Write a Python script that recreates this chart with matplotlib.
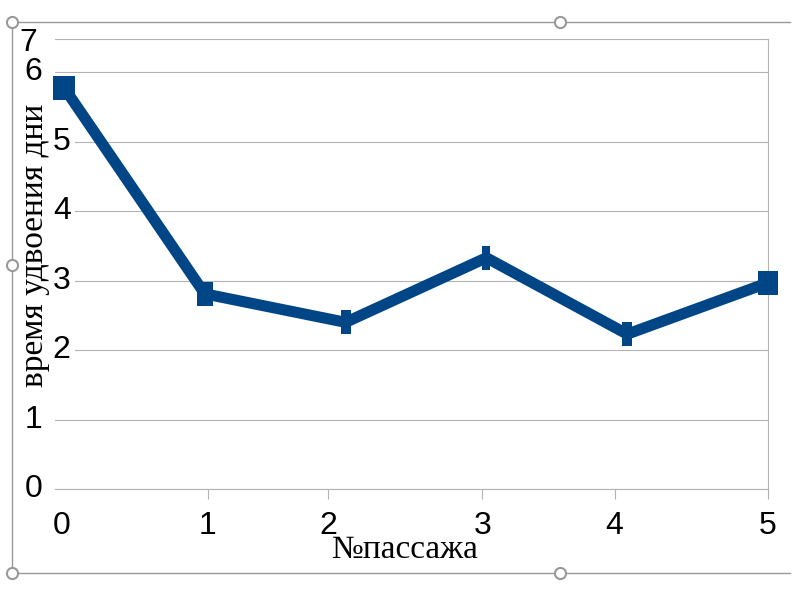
import matplotlib.pyplot as plt
from matplotlib.lines import Line2D
from matplotlib.transforms import offset_copy

# данные: время удвоения по пассажам
passage = [0, 1, 2, 3, 4, 5]
doubling_days = [5.78, 2.81, 2.40, 3.33, 2.23, 2.97]

x_tick_pos = [-0.02, 1.02, 1.875, 2.97, 3.91, 5.0]
x_tick_labels = ['0', '1', '2', '3', '4', '5']
y_tick_pos = [0, 1, 2, 3, 4, 5, 6, 6.48]
y_tick_labels = ['0', '1', '2', '3', '4', '5', '6', '7']

blue = '#004586'
grid_c = '#b3b3b3'
frame_c = '#999999'
marker_w = [21, 16, 9, 8, 9, 19]  # ширина маркеров, px (высота 24)

plt.rcParams['font.family'] = ['Liberation Sans', 'DejaVu Sans']

fig = plt.figure(figsize=(8, 6), dpi=100)
ax = fig.add_axes([55 / 800, 1 - 489 / 600, 713 / 800, 450 / 600])

ax.set_xlim(-0.064, 5.0)
ax.set_ylim(0, 6.48)

# сетка по y
ax.set_yticks(y_tick_pos[:-1])
ax.yaxis.grid(True, color=grid_c, linewidth=0.8)
ax.set_axisbelow(True)
ax.tick_params(axis='y', length=0, labelleft=False)

for sp in ['top', 'right', 'bottom']:
    ax.spines[sp].set_color(grid_c)
    ax.spines[sp].set_linewidth(0.8)
ax.spines['left'].set_visible(False)

ax.set_xticks(x_tick_pos)
ax.set_xticklabels(x_tick_labels, fontsize=23)
ax.tick_params(axis='x', length=7.2, width=0.8, color=grid_c, pad=9)
ax.xaxis.get_major_ticks()[0].tick1line.set_visible(False)

# подписи оси y (как в исходнике: 2..5 сдвинуты вправо)
ytr = ax.get_yaxis_transform()
for v, lab in zip(y_tick_pos, y_tick_labels):
    if lab in ('2', '3', '4', '5'):
        ax.text(0.022, v, lab, transform=ytr, ha='right', va='center', fontsize=23,
                zorder=1.5, bbox=dict(facecolor='white', edgecolor='none', pad=3))
    elif lab == '7':
        tr = offset_copy(ytr, fig=fig, x=-5, y=-4, units='dots')
        ax.text(-0.018, v, lab, transform=tr, ha='right', va='center', fontsize=23,
                clip_on=False)
    else:
        ax.text(-0.018, v, lab, transform=ytr, ha='right', va='center', fontsize=23,
                clip_on=False)

# линия
ax.plot(passage, doubling_days, color=blue, linewidth=8, solid_joinstyle='miter',
        clip_on=False, zorder=3)
for xi, yi, w in zip(passage, doubling_days, marker_w):
    verts = [(-w / 2, -12), (w / 2, -12), (w / 2, 12), (-w / 2, 12), (-w / 2, -12)]
    ax.plot(xi, yi, marker=verts, markersize=17.3, color=blue, markeredgewidth=0,
            clip_on=False, zorder=4)

fig.text(35 / 800, 1 - 245 / 600, 'время удвоения дни', rotation=90,
         ha='center', va='center', fontsize=24, family='Liberation Serif')
fig.text(405 / 800, 1 - 558 / 600, '№пассажа', ha='center', va='baseline',
         fontsize=24, family='Liberation Serif')

# рамка выделения
def fx(px):
    return px / 800

def fy(py):
    return 1 - py / 600

for xs, ys in [([12, 790], [22, 22]), ([12, 790], [573, 573]), ([12, 12], [22, 573])]:
    fig.add_artist(Line2D([fx(p) for p in xs], [fy(p) for p in ys],
                          transform=fig.transFigure, color=frame_c, linewidth=1))
for px, py in [(12, 22), (560, 22), (12, 265), (12, 573), (560, 573)]:
    fig.add_artist(Line2D([fx(px)], [fy(py)], transform=fig.transFigure, marker='o',
                          markersize=8, markerfacecolor='white',
                          markeredgecolor=frame_c, markeredgewidth=1.5))

fig.savefig('out.png', dpi=100)
